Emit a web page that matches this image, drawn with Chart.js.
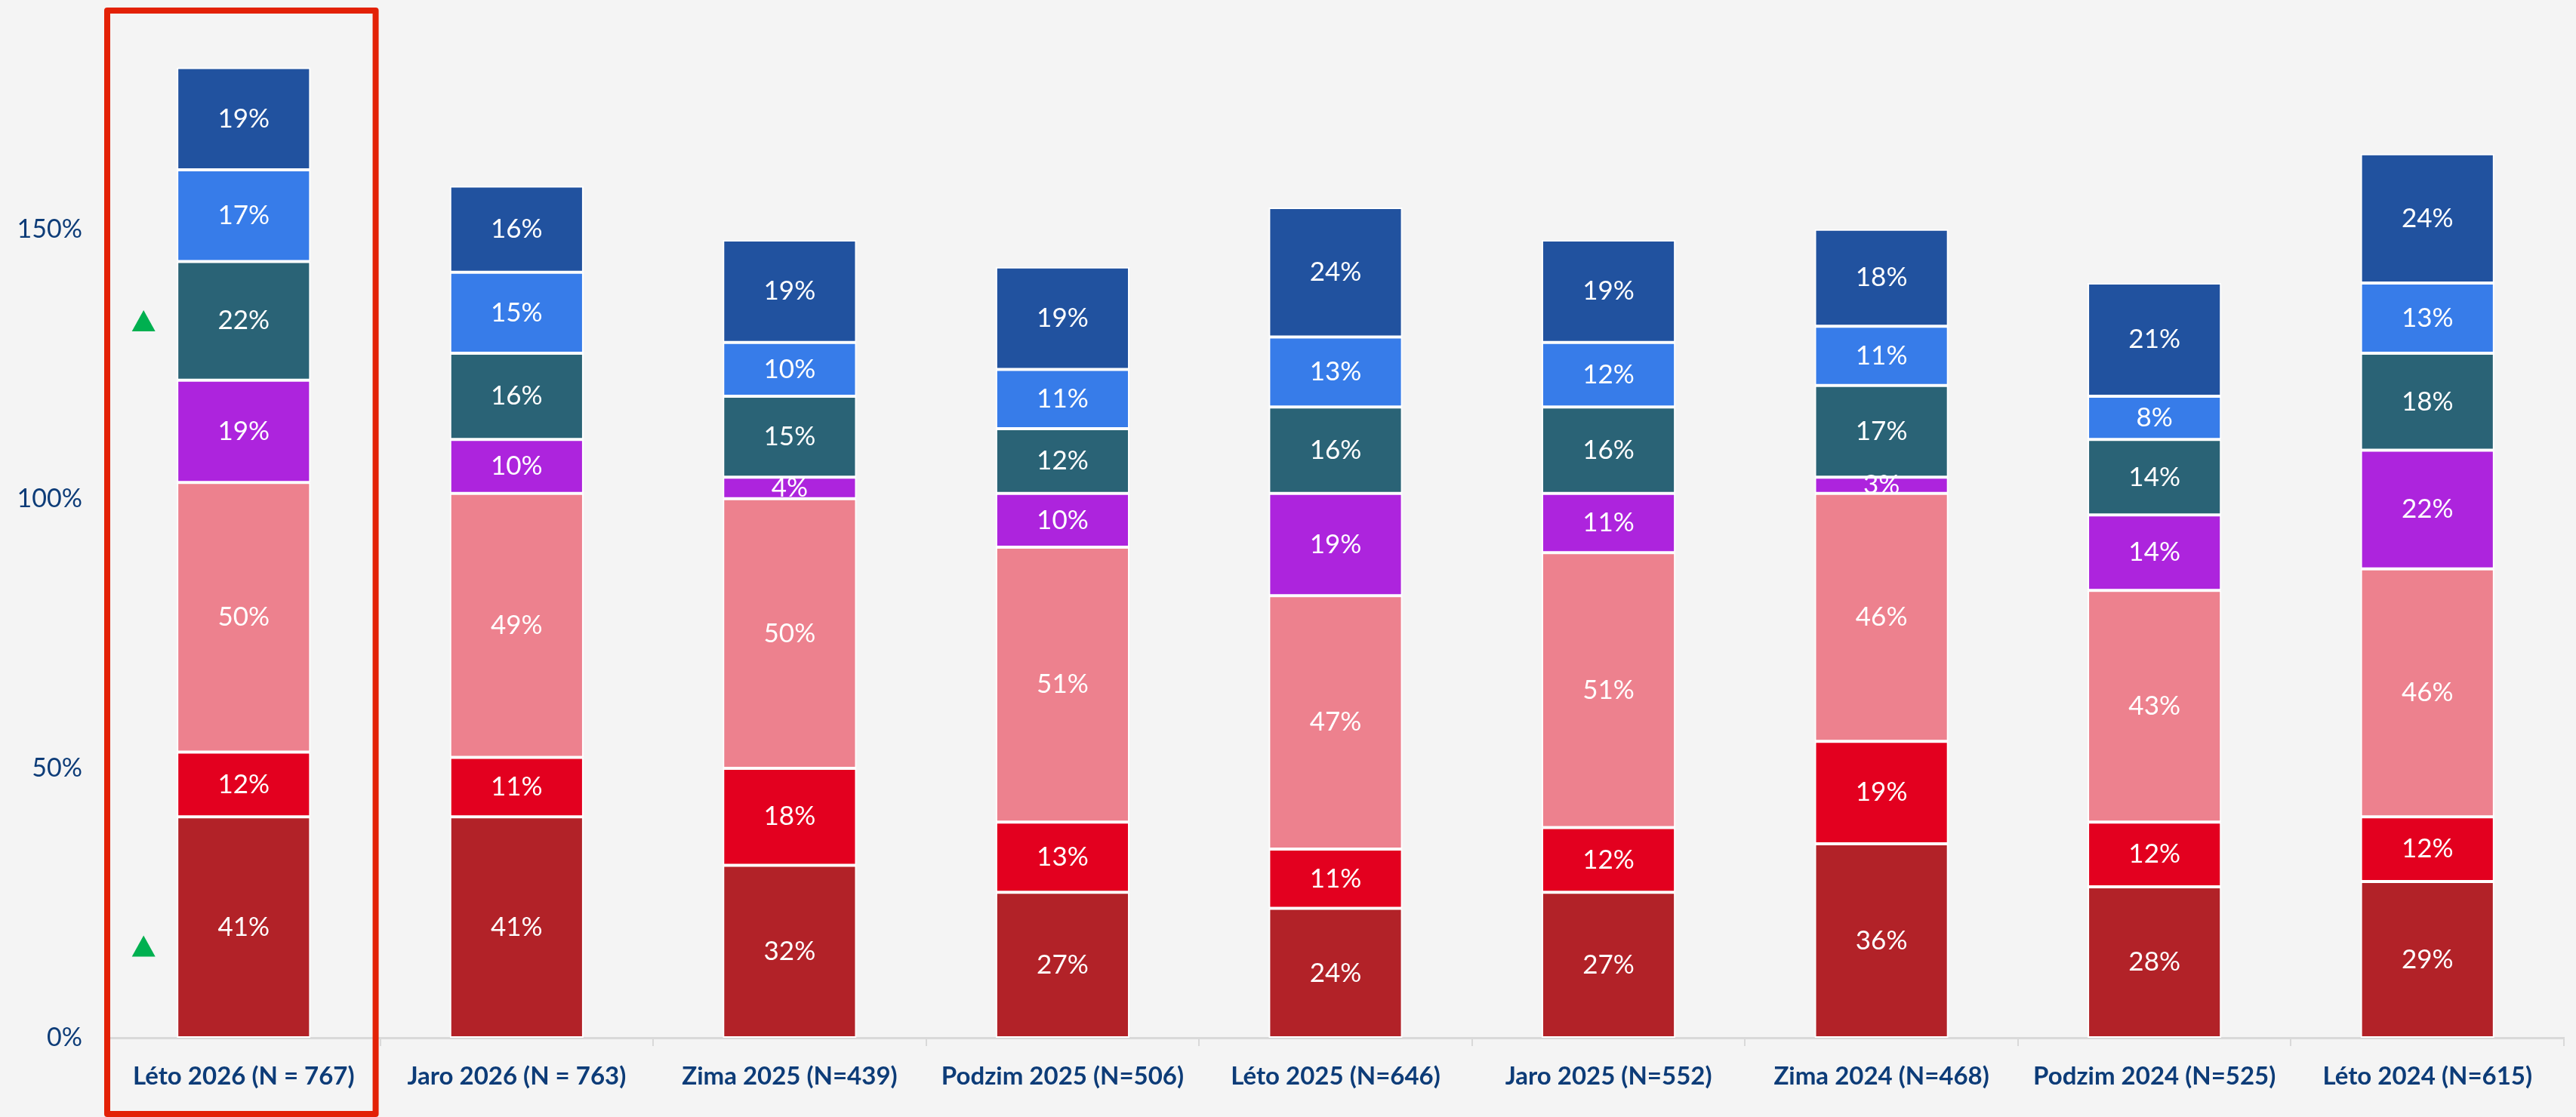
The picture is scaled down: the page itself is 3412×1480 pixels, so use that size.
<!DOCTYPE html>
<html>
<head>
<meta charset="utf-8">
<script src="https://cdn.jsdelivr.net/npm/chart.js@4/dist/chart.umd.min.js"></script>
<style>
	html, body { margin: 0; padding: 0; background: #f4f4f4; }
	#wrap { width: 3412px; height: 1480px; position: relative; }
</style>
</head>
<body>
<div id="wrap"><canvas id="cht_waves"></canvas></div>
<script>
"use strict";

var waves = ["Léto 2026 (N = 767)", "Jaro 2026 (N = 763)", "Zima 2025 (N=439)", "Podzim 2025 (N=506)",
	"Léto 2025 (N=646)", "Jaro 2025 (N=552)", "Zima 2024 (N=468)", "Podzim 2024 (N=525)", "Léto 2024 (N=615)"];

// stacked from the bottom up
var s1 = [41, 41, 32, 27, 24, 27, 36, 28, 29];
var s2 = [12, 11, 18, 13, 11, 12, 19, 12, 12];
var s3 = [50, 49, 50, 51, 47, 51, 46, 43, 46];
var s4 = [19, 10, 4, 10, 19, 11, 3, 14, 22];
var s5 = [22, 16, 15, 12, 16, 16, 17, 14, 18];
var s6 = [17, 15, 10, 11, 13, 12, 11, 8, 13];
var s7 = [19, 16, 19, 19, 24, 19, 18, 21, 24];

var seriesColors = ["#b22228", "#e3001f", "#ed818e", "#ad24dd", "#2a6376", "#377ce9", "#21529f"];

var yTicks = [0, 50, 100, 150];

// green up-arrows next to the highlighted wave
var markerWave = [0, 0];
var markerValue = [133, 17];

var highlightWave = 0;

var fontFamily = "Lato, 'Open Sans', sans-serif";
var navy = "#0d3c78";

function makeSet(name, data, i) {
	return {
		label: name,
		data: data,
		backgroundColor: seriesColors[i],
		borderColor: "#ffffff",
		borderWidth: 2,
		borderSkipped: false,
		categoryPercentage: 1,
		barPercentage: 0.49
	};
}

var barLabels = {
	id: "barLabels",
	afterDatasetsDraw: function (chart) {
		var ctx = chart.ctx;
		ctx.save();
		ctx.fillStyle = "#ffffff";
		ctx.font = "35px " + fontFamily;
		ctx.textAlign = "center";
		ctx.textBaseline = "middle";
		chart.data.datasets.forEach(function (ds, i) {
			var meta = chart.getDatasetMeta(i);
			meta.data.forEach(function (bar, j) {
				ctx.fillText(ds.data[j] + "%", bar.x, (bar.y + bar.base) / 2);
			});
		});
		ctx.restore();
	}
};

var extras = {
	id: "extras",
	afterDraw: function (chart) {
		var ctx = chart.ctx;
		var xs = chart.scales.x;
		var ys = chart.scales.y;
		var bar = chart.getDatasetMeta(0).data[highlightWave];
		var half = (xs.getPixelForValue(1) - xs.getPixelForValue(0)) / 2;

		ctx.save();
		ctx.strokeStyle = "#e32106";
		ctx.lineWidth = 8;
		ctx.lineJoin = "round";
		ctx.strokeRect(bar.x - half, 14, 2 * half - 6, chart.height - 18);

		ctx.fillStyle = "#00b050";
		for (var i = 0; i < markerWave.length; i++) {
			var b = chart.getDatasetMeta(0).data[markerWave[i]];
			var cx = b.x - b.width / 2 - 44;
			var cy = ys.getPixelForValue(markerValue[i]);
			ctx.beginPath();
			ctx.moveTo(cx, cy - 14);
			ctx.lineTo(cx + 15.5, cy + 14);
			ctx.lineTo(cx - 15.5, cy + 14);
			ctx.closePath();
			ctx.fill();
		}
		ctx.restore();
	}
};

var bg = {
	id: "bg",
	beforeDraw: function (chart) {
		var ctx = chart.ctx;
		ctx.save();
		ctx.fillStyle = "#f4f4f4";
		ctx.fillRect(0, 0, chart.width, chart.height);
		ctx.restore();
	}
};

var wavesChart = new Chart(document.getElementById("cht_waves").getContext("2d"), {
	type: "bar",
	data: {
		labels: waves,
		datasets: [
			makeSet("s1", s1, 0),
			makeSet("s2", s2, 1),
			makeSet("s3", s3, 2),
			makeSet("s4", s4, 3),
			makeSet("s5", s5, 4),
			makeSet("s6", s6, 5),
			makeSet("s7", s7, 6)
		]
	},
	options: {
		responsive: true,
		maintainAspectRatio: false,
		animation: false,
		layout: { padding: { top: 18, right: 16, left: 0, bottom: 0 } },
		plugins: {
			legend: { display: false },
			tooltip: { enabled: false }
		},
		scales: {
			x: {
				stacked: true,
				afterFit: function (scale) {
					scale.height = 105;
					scale.paddingLeft = 0;
					scale.paddingRight = 0;
				},
				grid: {
					display: true,
					offset: true,
					drawOnChartArea: false,
					drawTicks: true,
					tickLength: 11,
					color: "#d9d9d9",
					lineWidth: 2
				},
				border: { display: true, color: "#d9d9d9", width: 3 },
				ticks: {
					color: navy,
					padding: 21,
					maxRotation: 0,
					autoSkip: false,
					font: { family: fontFamily, size: 33, weight: "bold" }
				}
			},
			y: {
				stacked: true,
				min: 0,
				max: 190,
				afterFit: function (scale) {
					scale.width = 142;
					scale.paddingTop = 0;
					scale.paddingBottom = 0;
				},
				afterBuildTicks: function (scale) {
					scale.ticks = yTicks.map(function (v) { return { value: v }; });
				},
				grid: { display: false, drawTicks: false },
				border: { display: false },
				ticks: {
					color: navy,
					padding: 33,
					font: { family: fontFamily, size: 34 },
					callback: function (v) { return v + "%"; }
				}
			}
		}
	},
	plugins: [bg, barLabels, extras]
});
</script>
</body>
</html>
